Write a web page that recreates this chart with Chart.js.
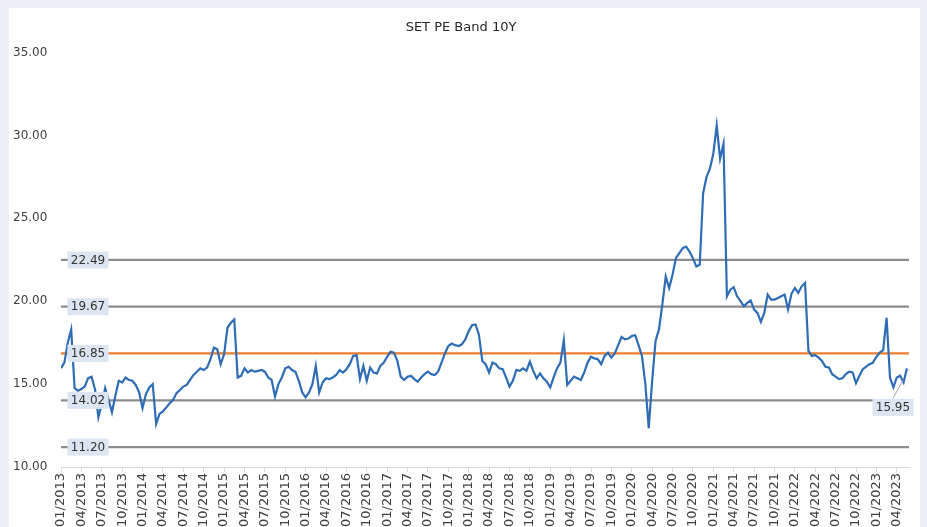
<!DOCTYPE html>
<html>
<head>
<meta charset="utf-8">
<script src="https://cdn.jsdelivr.net/npm/chart.js@4.4.1/dist/chart.umd.min.js"></script>
<style>
    body {margin: 0; background: #edf0f5; width: 927px; height: 527px; overflow: hidden;}
    #wrap {position: absolute; left: 9px; top: 8px; width: 911px; height: 519px; background: #fff;}
</style>
</head>
<body>
<div id="wrap"><canvas id="myChartPE" width="911" height="519"></canvas></div>
<script>
// SET PE, one value every half month starting 01/2013
const peStep = 0.5
const pe2013 = [15.96, 16.3, 17.5, 18.3, 14.76, 14.6, 14.7, 14.86, 15.36, 15.45, 14.7, 13.0, 13.8, 14.76, 14.05, 13.3, 14.3, 15.2, 15.1, 15.4, 15.25, 15.2, 14.95, 14.5]
const pe2014 = [13.55, 14.4, 14.8, 15.0, 12.6, 13.2, 13.35, 13.6, 13.85, 14.05, 14.45, 14.65, 14.85, 14.95, 15.25, 15.55, 15.75, 15.95, 15.85, 16.0, 16.5, 17.2, 17.1, 16.2]
const pe2015 = [16.8, 18.4, 18.7, 18.9, 15.4, 15.5, 15.95, 15.7, 15.85, 15.75, 15.8, 15.85, 15.75, 15.4, 15.25, 14.25, 15.0, 15.4, 15.95, 16.05, 15.85, 15.75, 15.2, 14.5]
const pe2016 = [14.2, 14.5, 15.0, 16.1, 14.5, 15.1, 15.35, 15.3, 15.4, 15.55, 15.85, 15.7, 15.9, 16.2, 16.7, 16.75, 15.3, 16.1, 15.2, 16.0, 15.7, 15.65, 16.1, 16.3]
const pe2017 = [16.65, 16.95, 16.9, 16.4, 15.45, 15.25, 15.45, 15.5, 15.3, 15.15, 15.4, 15.6, 15.75, 15.6, 15.55, 15.75, 16.3, 16.85, 17.3, 17.45, 17.35, 17.3, 17.4, 17.7]
const pe2018 = [18.2, 18.55, 18.6, 18.0, 16.4, 16.2, 15.7, 16.3, 16.2, 15.95, 15.9, 15.4, 14.85, 15.2, 15.85, 15.8, 15.95, 15.8, 16.35, 15.8, 15.35, 15.65, 15.35, 15.15]
const pe2019 = [14.8, 15.4, 15.95, 16.3, 17.65, 14.95, 15.2, 15.45, 15.35, 15.25, 15.7, 16.3, 16.65, 16.55, 16.5, 16.2, 16.7, 16.9, 16.6, 16.85, 17.35, 17.85, 17.7, 17.75]
const pe2020 = [17.9, 17.95, 17.35, 16.7, 15.0, 12.35, 15.2, 17.6, 18.3, 19.8, 21.5, 20.8, 21.6, 22.6, 22.9, 23.2, 23.3, 23.0, 22.6, 22.1, 22.2, 26.5, 27.5, 28.0]
const pe2021 = [28.9, 30.6, 28.6, 29.5, 20.3, 20.7, 20.85, 20.3, 20.0, 19.7, 19.9, 20.05, 19.5, 19.3, 18.75, 19.3, 20.4, 20.1, 20.1, 20.2, 20.3, 20.4, 19.5, 20.45]
const pe2022 = [20.8, 20.5, 20.9, 21.1, 17.0, 16.7, 16.75, 16.6, 16.4, 16.05, 16.0, 15.6, 15.45, 15.3, 15.35, 15.6, 15.75, 15.7, 15.05, 15.5, 15.9, 16.05, 16.2, 16.3]
const pe2023 = [16.65, 16.9, 17.05, 19.0, 15.4, 14.8, 15.4, 15.5, 15.1, 15.95]

const bandValues = [22.49, 19.67, 16.85, 14.02, 11.20]
const bandColors = ['#8c8c8c', '#8c8c8c', '#ed7d31', '#8c8c8c', '#8c8c8c']

const quarterLabels = [
    '01/2013', '04/2013', '07/2013', '10/2013', '01/2014', '04/2014', '07/2014', '10/2014',
    '01/2015', '04/2015', '07/2015', '10/2015', '01/2016', '04/2016', '07/2016', '10/2016',
    '01/2017', '04/2017', '07/2017', '10/2017', '01/2018', '04/2018', '07/2018', '10/2018',
    '01/2019', '04/2019', '07/2019', '10/2019', '01/2020', '04/2020', '07/2020', '10/2020',
    '01/2021', '04/2021', '07/2021', '10/2021', '01/2022', '04/2022', '07/2022', '10/2022',
    '01/2023', '04/2023'
]
const lastLabel = '15.95'
const xMax = 124.8

const peValues = [...pe2013, ...pe2014, ...pe2015, ...pe2016, ...pe2017, ...pe2018, ...pe2019, ...pe2020, ...pe2021, ...pe2022, ...pe2023]
const pePoints = peValues.map((v, i) => ({x: i * peStep, y: v}))

Chart.defaults.font.family = '"DejaVu Sans", Verdana, sans-serif'
Chart.defaults.font.size = 12
Chart.defaults.color = '#404040'

const drawBox = (ctx, text, cx, cy) => {
    ctx.fillStyle = '#dce6f2'
    ctx.fillRect(cx - 20.5, cy - 8.5, 41, 17)
    ctx.fillStyle = '#333'
    ctx.textAlign = 'center'
    ctx.textBaseline = 'middle'
    ctx.fillText(text, cx, cy + 0.5)
}

// value boxes on the band lines and on the last point
const bandLabels = {
    id: 'bandLabels',
    afterDatasetsDraw(chart) {
        const {ctx, chartArea, scales} = chart
        ctx.save()
        ctx.font = '12px "DejaVu Sans"'
        bandValues.forEach(v => {
            drawBox(ctx, v.toFixed(2), chartArea.left + 27, scales.y.getPixelForValue(v))
        })
        const lx = scales.x.getPixelForValue((peValues.length - 1) * peStep)
        const ly = scales.y.getPixelForValue(peValues[peValues.length - 1])
        ctx.strokeStyle = '#a6a6a6'
        ctx.lineWidth = 1
        ctx.beginPath()
        ctx.moveTo(lx - 14, ly + 30)
        ctx.lineTo(lx - 4, ly + 12)
        ctx.stroke()
        drawBox(ctx, lastLabel, lx - 14, ly + 39)
        ctx.restore()
    }
}

const bandSets = bandValues.map((v, i) => ({
    data: [{x: 0, y: v}, {x: xMax, y: v}],
    borderColor: bandColors[i],
    borderWidth: 2.2,
    pointRadius: 0
}))

const data = {
    datasets: [{
        data: pePoints,
        borderColor: '#2e6db6',
        borderWidth: 2.2,
        pointRadius: 0,
        tension: 0
    }, ...bandSets]
}

const options = {
    responsive: false,
    animation: false,
    devicePixelRatio: 1,
    layout: {padding: {left: 4, right: 11, top: 0, bottom: 0}},
    plugins: {
        legend: {display: false},
        tooltip: {enabled: false},
        title: {
            display: true,
            text: 'SET PE Band 10Y',
            color: '#262626',
            font: {size: 13, weight: 'normal'},
            padding: {top: 12, bottom: 17}
        }
    },
    scales: {
        x: {
            type: 'linear',
            min: 0,
            max: xMax,
            afterFit: scale => { scale.height = 60 },
            grid: {display: true, drawOnChartArea: false, drawTicks: true, tickLength: 5, color: '#d9d9d9'},
            border: {display: true, color: '#d9d9d9'},
            ticks: {
                stepSize: 3,
                includeBounds: false,
                autoSkip: false,
                maxRotation: 90,
                minRotation: 90,
                padding: 1,
                font: {size: 13},
                callback: value => quarterLabels[Math.round(value / 3)]
            }
        },
        y: {
            min: 10,
            max: 35,
            afterFit: scale => { scale.width = 48 },
            grid: {display: false},
            border: {display: false},
            ticks: {
                stepSize: 5,
                crossAlign: 'far',
                callback: value => value.toFixed(2)
            }
        }
    }
}

const myChartPE = new Chart('myChartPE', {type: 'line', data, options, plugins: [bandLabels]})
</script>
</body>
</html>
